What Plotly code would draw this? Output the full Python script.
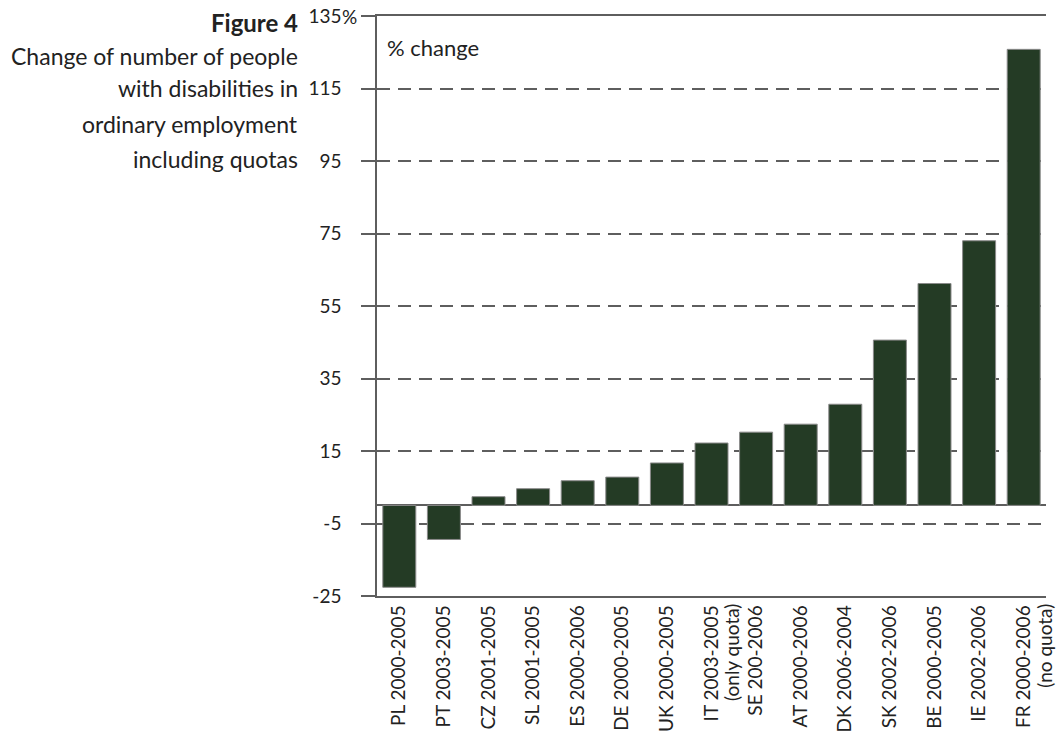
import plotly.graph_objects as go

categories = ["PL 2000-2005", "PT 2003-2005", "CZ 2001-2005", "SL 2001-2005",
              "ES 2000-2006", "DE 2000-2005", "UK 2000-2005",
              "IT 2003-2005 (only quota)", "SE 200-2006", "AT 2000-2006",
              "DK 2006-2004", "SK 2002-2006", "BE 2000-2005", "IE 2002-2006",
              "FR 2000-2006 (no quota)"]
label_main = ["PL 2000-2005", "PT 2003-2005", "CZ 2001-2005", "SL 2001-2005",
              "ES 2000-2006", "DE 2000-2005", "UK 2000-2005", "IT 2003-2005",
              "SE 200-2006", "AT 2000-2006", "DK 2006-2004", "SK 2002-2006",
              "BE 2000-2005", "IE 2002-2006", "FR 2000-2006"]
label_note = ["", "", "", "", "", "", "", "(only quota)", "", "", "", "", "", "",
              "(no quota)"]
values = [-22.6, -9.4, 2.4, 4.6, 6.8, 7.8, 11.7, 17.2, 20.2, 22.4, 27.9,
          45.6, 61.2, 73.0, 125.8]
tick_vals = [-25, -5, 15, 35, 55, 75, 95, 115, 135]
tick_text = ["-25", "-5", "15", "35", "55", "75", "95", "115", "135"]
title_lines = ["<b>Figure 4</b>", "Change of number of people", "with disabilities in",
               "ordinary employment", "including quotas"]

FONT = "Lato, 'Open Sans', sans-serif"
TXT = "#222222"

fig = go.Figure(go.Bar(
    x=categories, y=values,
    marker=dict(color="#243b25", line=dict(color="#8a8a8a", width=1)),
))

W, H = 1060, 738
L, R, T, B = 377, 14, 16, 142

fig.update_layout(
    width=W, height=H,
    margin=dict(l=L, r=R, t=T, b=B, autoexpand=False),
    paper_bgcolor="white", plot_bgcolor="white",
    font=dict(family=FONT, size=19, color=TXT),
    bargap=0.26,
    showlegend=False,
)
fig.update_xaxes(
    automargin=False,
    range=[-0.5, len(categories) - 0.5],
    showline=True, linecolor="#5e5e5e", linewidth=1.5, mirror=True,
    ticks="", tickangle=-90, showgrid=False,
    tickvals=categories, ticktext=label_main,
    tickfont=dict(family=FONT, size=19, color=TXT),
)
fig.update_yaxes(
    automargin=False,
    range=[-25, 135], tickvals=tick_vals, ticktext=tick_text,
    showline=True, linecolor="#5e5e5e", linewidth=1.5,
    ticks="outside", ticklen=14, tickcolor="#5e5e5e", tickwidth=1.5,
    showgrid=True, gridcolor="#5e5e5e", gridwidth=1.5, griddash="13px,8px",
    zeroline=True, zerolinecolor="#5e5e5e", zerolinewidth=1.5,
    tickfont=dict(family=FONT, size=19, color=TXT),
    ticklabelstandoff=16,
)

# second lines of the two-line category labels
for cat, note in zip(categories, label_note):
    if note:
        fig.add_annotation(
            text=note, x=cat, xref="x", y=0, yref="paper",
            xanchor="center", yanchor="top", xshift=20, yshift=-6,
            textangle=-90, showarrow=False,
            font=dict(family=FONT, size=19, color=TXT),
        )

pw = W - L - R
ph = H - T - B
title_ys = [22, 56, 88, 124, 159]
for txt, ypx in zip(title_lines, title_ys):
    fig.add_annotation(
        text=txt, xref="paper", yref="paper",
        x=(300 - L) / pw, y=1 - (ypx - T) / ph,
        xanchor="right", yanchor="middle", showarrow=False,
        font=dict(family=FONT, size=23 if "Figure" not in txt else 24, color=TXT),
    )
# percent sign on the top tick label
fig.add_annotation(
    text="%", xref="paper", y=135, yref="y",
    x=(340 - L) / pw, xanchor="left", yanchor="middle", showarrow=False,
    font=dict(family=FONT, size=19, color=TXT),
)
fig.add_annotation(
    text="% change", xref="paper", yref="paper",
    x=(385 - L) / pw, y=1 - (47 - T) / ph,
    xanchor="left", yanchor="middle", showarrow=False,
    font=dict(family=FONT, size=22, color=TXT),
)

fig.write_html("out.html")
